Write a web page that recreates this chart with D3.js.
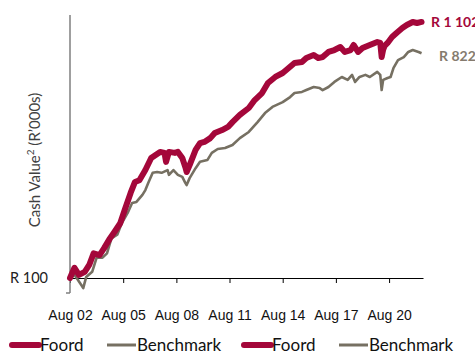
<!DOCTYPE html>
<html>
<head>
<meta charset="utf-8">
<script src="https://cdn.jsdelivr.net/npm/d3@7"></script>
<style>
  body { margin: 0; background: #fff; }
  svg { display: block; font-family: Lato, "Open Sans", sans-serif; }
</style>
</head>
<body>
<div id="graph"></div>
<script>
// Foord vs Benchmark, cash value of R 100 invested Aug 2002
const foordDates = ['2002-08','2002-11','2003-02','2003-06','2003-09','2003-12','2004-04','2004-07','2004-11','2005-02',
  '2005-06','2005-09','2006-01','2006-04','2006-07','2006-11','2007-03','2007-09','2007-12','2008-01',
  '2008-03','2008-07','2008-09','2008-12','2009-02','2009-03','2009-05','2009-09','2009-12','2010-03',
  '2010-07','2010-10','2011-03','2011-07','2011-10','2012-03','2012-09','2013-01','2013-06','2013-10',
  '2014-03','2014-08','2014-12','2015-04','2015-09','2015-12','2016-05','2016-08','2016-11','2017-03',
  '2017-07','2017-11','2018-02','2018-06','2018-08','2018-11','2019-02','2019-07','2019-12','2020-02',
  '2020-03','2020-04','2020-05','2020-07','2020-10','2021-01','2021-05','2021-08','2021-12','2022-03','2022-06'];
const foordValues = [100,110,103,106,113,126,124,132,145,154,
  167,189,222,246,250,275,308,326,323,297,
  326,323,326,308,283,270,288,332,354,358,
  371,389,400,412,431,461,492,530,566,622,
  658,683,716,750,757,786,808,786,793,832,
  847,871,832,847,888,832,863,888,913,905,
  793,850,880,905,957,994,1041,1071,1101,1091,1102];

const benchDates = ['2002-08','2002-11','2003-03','2003-05','2003-07','2003-11','2004-02','2004-06','2004-09','2004-12',
  '2005-04','2005-07','2005-11','2006-02','2006-05','2006-09','2006-11','2007-01','2007-04','2007-07',
  '2007-10','2008-02','2008-03','2008-06','2008-09','2008-12','2009-02','2009-03','2009-05','2009-09',
  '2009-12','2010-05','2010-08','2010-12','2011-05','2011-10','2012-03','2012-09','2013-03','2013-08',
  '2014-01','2014-08','2015-01','2015-04','2015-09','2015-12','2016-05','2016-09','2016-11','2017-03',
  '2017-07','2017-12','2018-04','2018-07','2018-09','2018-12','2019-04','2019-07','2019-12','2020-02',
  '2020-03','2020-04','2020-07','2020-09','2020-11','2021-02','2021-06','2021-09','2021-12','2022-04','2022-06'];
const benchValues = [100,103,95,91,101,106,121,121,126,145,
  150,167,184,202,204,218,228,244,268,270,
  268,275,263,275,263,258,244,239,255,280,
  297,302,323,335,338,348,371,393,431,469,
  497,520,545,566,572,582,599,593,582,599,
  628,658,640,671,628,658,671,658,690,671,
  582,640,652,658,716,771,793,832,847,832,822];

const tickYears = [2002, 2005, 2008, 2011, 2014, 2017, 2020];
const endLabels = ['R 1 102', 'R 822'];
const baseLabel = 'R 100';
const yAxisTitle = 'Cash Value';
const legendNames = ['Foord', 'Benchmark', 'Foord', 'Benchmark'];

const RED = '#a4073a';
const GREY = '#767062';
const width = 475, height = 354;
const parseMonth = d3.timeParse('%Y-%m');

const svg = d3.select('#graph').append('svg')
  .attr('width', width)
  .attr('height', height);

const x = d3.scaleTime()
  .domain([new Date(2002, 7, 1), new Date(2022, 6, 1)])
  .range([70, 423]);

const y = d3.scaleLog()
  .domain([100 * Math.exp(-15 / 106.7), 100 * Math.exp(263 / 106.7)])
  .range([293, 15]);

const foord = foordDates.map((d, i) => ({ date: parseMonth(d), value: foordValues[i] }));
const bench = benchDates.map((d, i) => ({ date: parseMonth(d), value: benchValues[i] }));

// x axis sits on the R 100 line
const xAxis = d3.axisBottom(x)
  .tickValues(tickYears.map(yr => new Date(yr, 7, 1)))
  .tickFormat(d3.timeFormat('%b %y'))
  .tickSize(5)
  .tickSizeOuter(0);

const gx = svg.append('g')
  .attr('transform', `translate(0, ${ y(100) })`)
  .call(xAxis);
gx.select('.domain').attr('stroke', '#000').attr('stroke-width', 1.2);
gx.selectAll('.tick line').attr('stroke', '#000');
gx.selectAll('.tick text')
  .attr('dy', 0)
  .attr('y', 42)
  .attr('fill', '#111')
  .style('font-size', '14px');

// y axis: plain grey line with small outer tick at the bottom
svg.append('line')
  .attr('x1', 70).attr('x2', 70)
  .attr('y1', y.range()[1]).attr('y2', y.range()[0])
  .attr('stroke', '#7f7f7f')
  .attr('stroke-width', 1.5);
svg.append('line')
  .attr('x1', 66).attr('x2', 70)
  .attr('y1', y.range()[0]).attr('y2', y.range()[0])
  .attr('stroke', '#7f7f7f')
  .attr('stroke-width', 1.5);

svg.append('text')
  .attr('x', 48)
  .attr('y', y(100))
  .attr('dy', '0.35em')
  .attr('text-anchor', 'end')
  .attr('fill', '#222')
  .style('font-size', '14.5px')
  .text(baseLabel);

const title = svg.append('text')
  .attr('transform', 'translate(40, 160) rotate(-90)')
  .attr('text-anchor', 'middle')
  .attr('fill', '#404040')
  .style('font-size', '15px');
title.append('tspan').text(yAxisTitle);
title.append('tspan').attr('baseline-shift', 'super').style('font-size', '10px').text('2');
title.append('tspan').text(' (R\u2019000s)');

const line = d3.line()
  .x(d => x(d.date))
  .y(d => y(d.value))
  .curve(d3.curveLinear);

svg.append('path')
  .datum(bench)
  .attr('d', line)
  .attr('fill', 'none')
  .attr('stroke', GREY)
  .attr('stroke-width', 2.6)
  .attr('stroke-linejoin', 'round');

svg.append('path')
  .datum(foord)
  .attr('d', line)
  .attr('fill', 'none')
  .attr('stroke', RED)
  .attr('stroke-width', 6)
  .attr('stroke-linejoin', 'round')
  .attr('stroke-linecap', 'round');

// end value labels
svg.append('text')
  .attr('x', 431)
  .attr('y', y(foordValues[foordValues.length - 1]))
  .attr('dy', '0.35em')
  .attr('fill', RED)
  .style('font-size', '14px')
  .style('font-weight', 'bold')
  .text(endLabels[0]);
svg.append('text')
  .attr('x', 439)
  .attr('y', y(benchValues[benchValues.length - 1]) + 3)
  .attr('dy', '0.35em')
  .attr('fill', '#857b6e')
  .style('font-size', '14px')
  .style('font-weight', 'bold')
  .text(endLabels[1]);

// legend (shown twice, as in the source)
const legendX = [10, 107, 242, 339];
const legend = svg.append('g')
  .selectAll('g')
  .data(legendNames)
  .enter()
  .append('g')
    .attr('transform', (d, i) => `translate(${ legendX[i] }, 345)`);
legend.append('line')
  .attr('x1', d => d === 'Foord' ? 2 : 0)
  .attr('x2', 29)
  .attr('stroke', d => d === 'Foord' ? RED : GREY)
  .attr('stroke-width', d => d === 'Foord' ? 6 : 3)
  .attr('stroke-linecap', d => d === 'Foord' ? 'round' : 'butt');
legend.append('text')
  .attr('x', 30)
  .attr('dy', '0.35em')
  .attr('fill', '#111')
  .style('font-size', '17px')
  .text(d => d);
</script>
</body>
</html>
